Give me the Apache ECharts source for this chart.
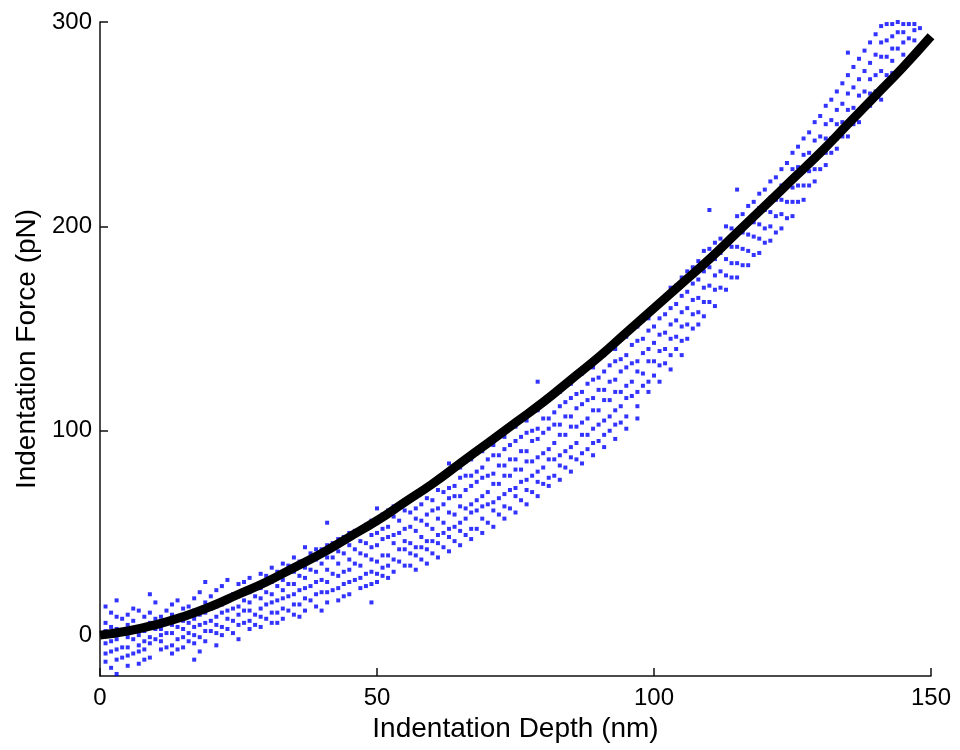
<!DOCTYPE html>
<html>
<head>
<meta charset="utf-8">
<script src="https://cdn.jsdelivr.net/npm/echarts@6/dist/echarts.min.js"></script>
<style>
  html, body { margin: 0; padding: 0; background: #fff; }
  #main { width: 960px; height: 750px; }
</style>
</head>
<body>
<div id="main"></div>
<script>
// fitted curve, every 5 nm
const fitDepth = [0, 5, 10, 15, 20, 25, 30, 35, 40, 45, 50, 55, 60, 65, 70, 75, 80, 85, 90, 95, 100, 105, 110, 115, 120, 125, 130, 135, 140, 145, 150];
const fitForce = [0, 2, 5, 9, 14, 20, 26, 33, 40, 48, 56, 65, 74, 84, 94, 104, 114, 125, 136, 148, 160, 172, 184, 197, 210, 223, 236, 250, 264, 278, 293];

// measured points, grouped in columns of the same depth (odd nm)
const depthColsA = [1, 3, 5, 7, 9, 11, 13, 15, 17, 19, 21, 23, 25, 27, 29, 31, 33, 35, 37, 39,
  41, 43, 45, 47, 49, 51, 53, 55, 57, 59, 61, 63, 65, 67, 69, 71, 73, 75, 77, 79,
  81, 83, 85, 87, 89, 91, 93, 95, 97, 99, 101, 103, 105, 107, 109, 111, 113, 115, 117, 119,
  121, 123, 125, 127, 129, 131, 133, 135, 137, 139, 141, 143, 145, 147];
const forceColsA = [
  [14, 6, 2, -4, -9, -13],
  [17, 9, 3, -2, -7, -12, -19],
  [10, 5, -1, -6, -10, -15],
  [12, 4, 0, -5, -8, -14],
  [20, 11, 6, -1, -4, -11],
  [9, 3, 0, -3, -7],
  [15, 10, 5, 1, -5, -9],
  [13, 7, 3, -1, -6],
  [18, 12, 8, 4, 0, -4, -12],
  [26, 16, 11, 6, 2, -3],
  [22, 14, 9, 5, 1, -5],
  [27, 18, 12, 8, 3],
  [25, 19, 14, 10, 5, -2],
  [28, 21, 16, 12, 7, 3],
  [30, 23, 18, 13, 9, 4],
  [33, 26, 20, 16, 11, 6],
  [35, 27, 22, 18, 13, 8],
  [38, 31, 25, 20, 15, 10],
  [43, 33, 28, 23, 18, 12],
  [42, 37, 31, 26, 20, 14],
  [55, 44, 38, 32, 26, 21, 16],
  [47, 41, 35, 29, 23, 17],
  [50, 44, 37, 32, 26, 20],
  [52, 46, 40, 34, 28, 23],
  [56, 49, 43, 37, 31, 25, 16],
  [59, 52, 47, 39, 33, 29],
  [63, 58, 49, 45, 37, 31],
  [66, 61, 52, 46, 42, 34],
  [69, 62, 57, 51, 43, 39, 32],
  [73, 67, 59, 54, 46, 42, 35],
  [77, 71, 62, 57, 49, 45, 38],
  [84, 72, 67, 60, 52, 48, 41],
  [82, 77, 68, 63, 55, 51, 44],
  [86, 78, 73, 64, 60, 52, 47],
  [90, 82, 77, 68, 63, 57, 50],
  [93, 88, 79, 74, 65, 61, 53],
  [97, 91, 83, 78, 69, 63, 57],
  [102, 95, 86, 81, 72, 68, 60],
  [105, 99, 90, 85, 76, 71, 64],
  [124, 110, 101, 96, 87, 80, 75, 68],
  [115, 106, 101, 91, 86, 77, 73],
  [119, 112, 103, 98, 88, 83, 76],
  [123, 116, 107, 102, 92, 87, 80],
  [128, 119, 113, 104, 98, 89, 84],
  [131, 125, 116, 110, 101, 94, 88],
  [137, 129, 120, 115, 105, 98, 92],
  [140, 134, 125, 119, 110, 103, 96],
  [146, 137, 131, 122, 116, 107, 101],
  [151, 144, 134, 129, 119, 112, 106],
  [155, 149, 140, 134, 124, 119],
  [163, 155, 147, 139, 132, 124],
  [170, 160, 152, 145, 137, 130],
  [175, 166, 158, 151, 144, 137],
  [180, 172, 164, 157, 150],
  [188, 178, 170, 163, 156],
  [192, 184, 176, 169, 161],
  [200, 192, 184, 176, 169],
  [218, 205, 197, 190, 182, 175],
  [210, 203, 196, 188, 181],
  [216, 209, 201, 194, 187],
  [222, 214, 207, 200, 193],
  [228, 220, 213, 206, 199],
  [236, 228, 219, 212, 205],
  [243, 235, 227, 220, 213],
  [251, 242, 234, 228, 222],
  [259, 250, 243, 236, 230],
  [266, 257, 250, 243, 238],
  [285, 274, 265, 257, 250, 244],
  [282, 272, 264, 257, 251],
  [290, 280, 272, 265, 259],
  [298, 290, 283, 276, 268, 262],
  [299, 293, 287, 281, 275],
  [299, 295, 290, 284],
  [299, 296, 291]
];

// second set of columns (even nm)
const depthColsB = [2, 4, 6, 8, 10, 12, 14, 16, 18, 20, 22, 24, 26, 28, 30, 32, 34, 36, 38, 40,
  42, 44, 46, 48, 50, 52, 54, 56, 58, 60, 62, 64, 66, 68, 70, 72, 74, 76, 78, 80,
  82, 84, 86, 88, 90, 92, 94, 96, 98, 100, 102, 104, 106, 108, 110, 112, 114, 116, 118, 120,
  122, 124, 126, 128, 130, 132, 134, 136, 138, 140, 142, 144, 146, 148];
const forceColsB = [
  [11, 4, -3, -8, -16],
  [8, 1, -6, -11],
  [13, 7, -2, -9],
  [9, 2, -3, -7, -12],
  [16, 8, 3, -2],
  [12, 6, 1, -6],
  [17, 9, 4, -2, -7],
  [14, 6, 1, -3],
  [21, 10, 5, -1, -8],
  [19, 13, 7, 2],
  [24, 15, 11, 4, 0],
  [20, 13, 7, 1],
  [26, 17, 12, 6],
  [24, 19, 10, 5],
  [29, 21, 15, 8],
  [31, 24, 17, 11, 6],
  [34, 25, 19, 12],
  [36, 29, 22, 15, 9],
  [40, 32, 24, 17],
  [42, 35, 27, 21, 12],
  [45, 38, 30, 22],
  [48, 40, 31, 25, 19],
  [51, 42, 35, 27],
  [54, 45, 39, 30, 24],
  [62, 50, 44, 36, 30, 26],
  [61, 53, 48, 39, 34, 28],
  [64, 56, 50, 42, 36],
  [67, 60, 53, 45, 40, 34],
  [71, 64, 56, 48, 43, 37],
  [75, 66, 61, 52, 46, 40],
  [78, 70, 64, 55, 50, 43],
  [82, 73, 68, 59, 53, 46],
  [85, 78, 71, 62, 57, 49],
  [89, 80, 75, 66, 61, 52],
  [93, 86, 78, 70, 64, 55],
  [97, 88, 83, 74, 67, 59],
  [101, 93, 86, 78, 71, 62],
  [106, 97, 90, 81, 75, 66],
  [110, 100, 95, 85, 78, 70],
  [114, 106, 99, 89, 82, 74],
  [118, 109, 103, 94, 86, 78],
  [123, 114, 107, 98, 90, 82],
  [127, 118, 111, 102, 94, 86],
  [131, 123, 115, 106, 98, 91],
  [136, 126, 120, 110, 103, 95],
  [140, 132, 124, 115, 107, 100],
  [145, 135, 129, 119, 112, 104],
  [150, 142, 133, 124, 117],
  [154, 145, 138, 128, 122],
  [161, 151, 143, 134, 127],
  [166, 157, 148, 140, 133],
  [171, 162, 154, 146, 140],
  [178, 168, 160, 152, 145],
  [183, 174, 165, 158, 152],
  [208, 189, 180, 171, 163],
  [194, 187, 178, 170],
  [199, 190, 182, 175],
  [206, 197, 189, 181],
  [212, 202, 195, 186],
  [218, 208, 199, 192],
  [224, 213, 205, 197],
  [231, 221, 212, 204],
  [239, 229, 220, 212],
  [246, 236, 227, 220],
  [254, 244, 235, 228],
  [262, 252, 243, 236],
  [270, 260, 251, 244],
  [278, 268, 258, 250],
  [286, 276, 266, 258],
  [294, 284, 274, 266],
  [299, 291, 283, 274],
  [300, 295, 287],
  [299, 292],
  [297]
];

const yTicks = [0, 100, 200, 300];

const chart = echarts.init(document.getElementById('main'), null, { renderer: 'canvas' });

let points = [];
depthColsA.forEach((d, i) => {
  forceColsA[i].forEach(f => points.push([d, f]));
});
depthColsB.forEach((d, i) => {
  forceColsB[i].forEach(f => points.push([d, f]));
});
const fit = fitDepth.map((d, i) => [d, fitForce[i]]);

const font = '"Liberation Sans", Arial, sans-serif';

chart.setOption({
  animation: false,
  backgroundColor: '#fff',
  grid: { left: 100, right: 29, top: 22, bottom: 74, containLabel: false },
  xAxis: {
    type: 'value',
    min: 0, max: 150, interval: 50,
    name: 'Indentation Depth (nm)',
    nameLocation: 'middle',
    nameGap: 38,
    nameTextStyle: { fontFamily: font, fontSize: 28, color: '#000' },
    axisLine: { show: true, onZero: false, lineStyle: { color: '#111', width: 1.5 } },
    axisTick: { show: true, inside: true, length: 8, lineStyle: { color: '#111', width: 1.5 } },
    axisLabel: { fontFamily: font, fontSize: 24, color: '#000', margin: 10 },
    splitLine: { show: false }
  },
  yAxis: {
    type: 'value',
    min: -20, max: 300,
    name: 'Indentation Force (pN)',
    nameLocation: 'middle',
    nameGap: 57,
    nameTextStyle: { fontFamily: font, fontSize: 28, color: '#000' },
    axisLine: { show: true, onZero: false, lineStyle: { color: '#111', width: 1.5 } },
    axisTick: { show: true, inside: true, length: 8, customValues: yTicks, lineStyle: { color: '#111', width: 1.5 } },
    axisLabel: { fontFamily: font, fontSize: 24, color: '#000', margin: 8, customValues: yTicks },
    splitLine: { show: false }
  },
  series: [
    {
      type: 'scatter',
      data: points,
      symbol: 'rect',
      symbolSize: 4,
      itemStyle: { color: '#0000ff' },
      z: 2
    },
    {
      type: 'line',
      data: fit,
      smooth: true,
      showSymbol: false,
      lineStyle: { color: '#000', width: 9 },
      z: 3
    }
  ]
});
</script>
</body>
</html>
